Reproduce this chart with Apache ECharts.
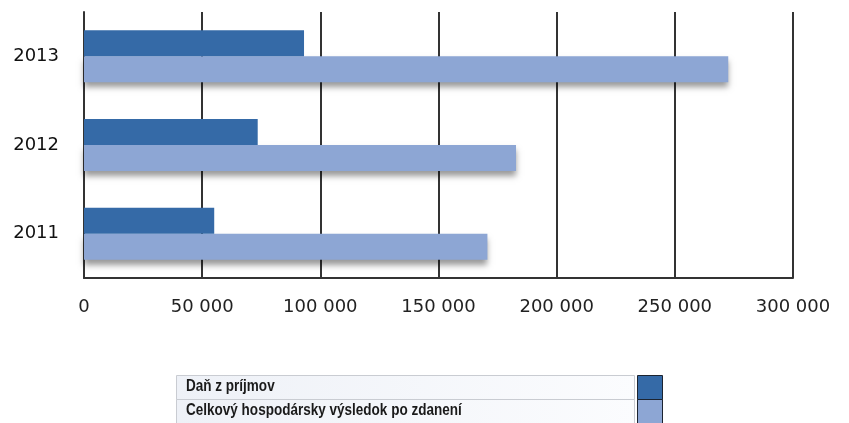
<!DOCTYPE html>
<html>
<head>
<meta charset="utf-8">
<script src="https://cdn.jsdelivr.net/npm/echarts@6/dist/echarts.min.js"></script>
<style>
html,body{margin:0;padding:0;background:#fff;}
#c{width:849px;height:423px;}
</style>
</head>
<body>
<div id="c"></div>
<script>
const categories = ['2011', '2012', '2013'];
const seriesNames = ['Daň z príjmov', 'Celkový hospodársky výsledok po zdanení'];
const danZPrijmov = [55100, 73500, 93100];
const celkovyVysledok = [170700, 182800, 272600];
const xTicks = [0, 50000, 100000, 150000, 200000, 250000, 300000];
const colors = ['#356aa7', '#8da6d4'];

const fmt = v => String(v).replace(/\B(?=(\d{3})+(?!\d))/g, ' ');
const chart = echarts.init(document.getElementById('c'), null, {renderer: 'canvas'});

const legendFont = 'bold 16px "Liberation Sans", sans-serif';
const legendGraphic = [];
seriesNames.forEach((name, i) => {
  const top = 375 + i * 24;
  legendGraphic.push({
    type: 'rect', left: 176, top: top, z: 1,
    shape: {width: 458, height: 24},
    style: {fill: new echarts.graphic.LinearGradient(0, 0, 1, 0, [{offset: 0, color: '#eef1f7'}, {offset: 1, color: '#fbfcfe'}]), stroke: '#c9ccd2', lineWidth: 1}
  });
  legendGraphic.push({
    type: 'rect', left: 637, top: top, z: 2,
    shape: {width: 25, height: 24},
    style: {fill: colors[i], stroke: '#1c2430', lineWidth: 1}
  });
  legendGraphic.push({
    type: 'text', x: 186, y: top + 4, z: 3, scaleX: 0.845,
    style: {text: name, font: legendFont, fill: '#1a1a1a'}
  });
});

chart.setOption({
  animation: false,
  backgroundColor: '#ffffff',
  grid: {left: 84, right: 56, top: 12, bottom: 145, containLabel: false},
  xAxis: {
    type: 'value', min: 0, max: 300000, interval: 50000,
    axisLine: {show: true, lineStyle: {color: '#333', width: 2}},
    axisTick: {show: false},
    splitLine: {show: true, lineStyle: {color: '#333', width: 2}},
    axisLabel: {formatter: fmt, fontSize: 18, color: '#222', margin: 20, fontFamily: '"DejaVu Sans", sans-serif'}
  },
  yAxis: {
    type: 'category', data: categories,
    axisLine: {show: true, lineStyle: {color: '#333', width: 2}},
    axisTick: {show: false},
    axisLabel: {fontSize: 18, color: '#111', margin: 25, fontFamily: '"DejaVu Sans", sans-serif'}
  },
  series: [
    {
      name: seriesNames[0], type: 'bar', data: danZPrijmov, barWidth: 26, barGap: '0%',
      itemStyle: {color: colors[0]}, z: 3
    },
    {
      name: seriesNames[1], type: 'bar', data: celkovyVysledok, barWidth: 26, barGap: '0%',
      itemStyle: {color: colors[1], shadowColor: 'rgba(0,0,0,0.4)', shadowBlur: 6, shadowOffsetY: 5}, z: 2
    }
  ],
  graphic: legendGraphic
});
</script>
</body>
</html>
